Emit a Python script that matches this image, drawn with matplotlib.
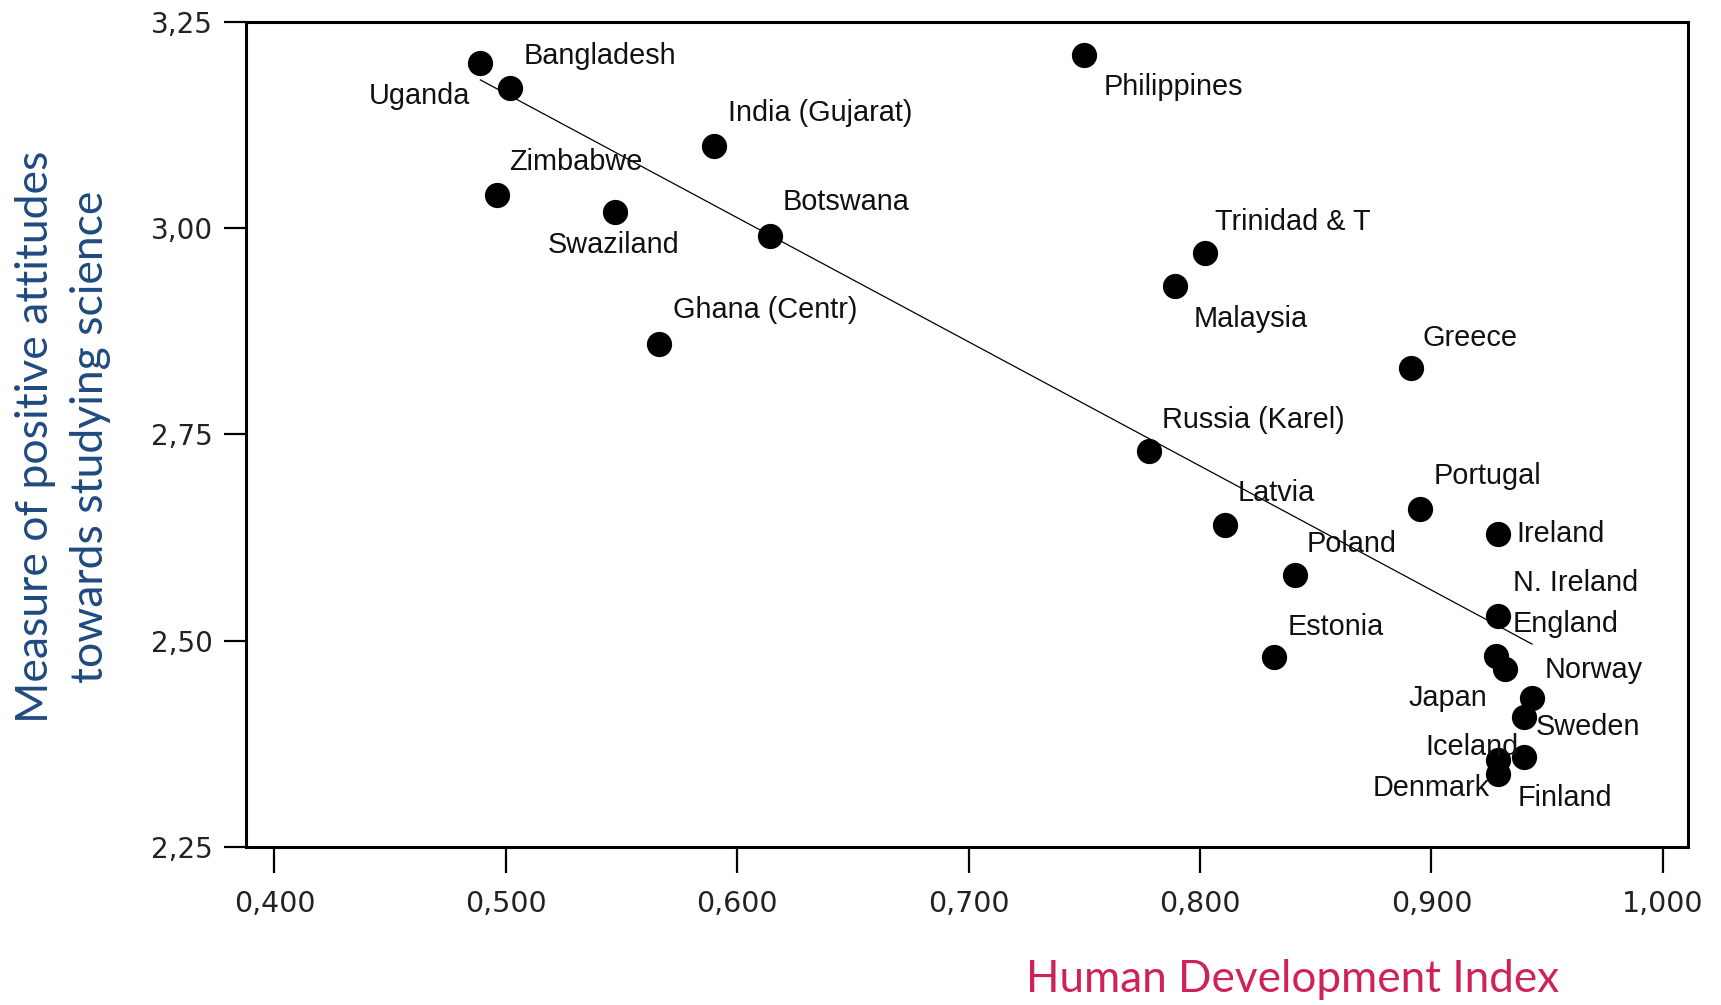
import matplotlib
matplotlib.use("Agg")
import matplotlib.pyplot as plt
import numpy as np

# ---- data ----
countries = ["Uganda", "Bangladesh", "Zimbabwe", "Swaziland", "India (Gujarat)",
             "Botswana", "Ghana (Centr)", "Philippines", "Trinidad & T", "Malaysia",
             "Greece", "Russia (Karel)", "Latvia", "Poland", "Estonia", "Portugal",
             "Ireland", "England", "N. Ireland", "Norway", "Japan", "Sweden",
             "Iceland", "Denmark", "Finland"]
hdi = [0.489, 0.502, 0.496, 0.547, 0.590,
       0.614, 0.566, 0.750, 0.802, 0.789,
       0.891, 0.778, 0.811, 0.841, 0.832, 0.895,
       0.929, 0.929, 0.928, 0.932, 0.9435, 0.940,
       0.929, 0.929, 0.940]
attitude = [3.20, 3.17, 3.04, 3.02, 3.10,
            2.99, 2.86, 3.21, 2.97, 2.93,
            2.83, 2.73, 2.64, 2.58, 2.48, 2.66,
            2.63, 2.53, 2.481, 2.466, 2.431, 2.408,
            2.356, 2.339, 2.359]
xticks = [0.4, 0.5, 0.6, 0.7, 0.8, 0.9, 1.0]
yticks = [2.25, 2.50, 2.75, 3.00, 3.25]

# ---- label placement (style): offset in display px of the reference, alignment ----
S = 1.0976
label_pos = {
    "Uganda": (-9, -30, "right"), "Bangladesh": (12, 29, "left"),
    "Zimbabwe": (11, 30, "left"), "Swaziland": (-61, -30, "left"),
    "India (Gujarat)": (13, 30, "left"), "Botswana": (12, 31, "left"),
    "Ghana (Centr)": (13, 31, "left"), "Philippines": (18, -29, "left"),
    "Trinidad & T": (9, 28, "left"), "Malaysia": (17, -30, "left"),
    "Greece": (11, 28, "left"), "Russia (Karel)": (12, 28, "left"),
    "Latvia": (11, 29, "left"), "Poland": (11, 28, "left"),
    "Estonia": (12, 28, "left"), "Portugal": (13, 30, "left"),
    "Ireland": (16, 0, "left"), "England": (13, -7, "left"),
    "N. Ireland": (15, 67, "left"), "Norway": (36, -1, "left"),
    "Japan": (-41, 0, "right"), "Sweden": (11, -9, "left"),
    "Iceland": (-67, 11, "left"), "Denmark": (-8, -13, "right"),
    "Finland": (-6, -37, "left"),
}

W, H = 1721, 1005
fig = plt.figure(figsize=(W / 100, H / 100), dpi=100)
ax = fig.add_axes([246 / W, 1 - 847 / H, (1688 - 246) / W, (847 - 22) / H])

x = np.array(hdi)
y = np.array(attitude)
coef = np.polyfit(x, y, 1)
xl = np.array([x.min(), x.max()])
ax.plot(xl, np.polyval(coef, xl), color="black", lw=0.9, zorder=2)
ax.scatter(x, y, s=330, color="black", zorder=3, linewidths=0)

for name, xi, yi in zip(countries, hdi, attitude):
    dx, dy, ha = label_pos[name]
    ax.annotate(name, (xi, yi), xytext=(dx * S, dy * S), textcoords="offset pixels",
                ha=ha, va="center", fontsize=20.8, family="Liberation Sans",
                color="#111111", zorder=4)

ax.set_xlim(0.3877, 1.0109)
ax.set_ylim(2.25, 3.25)
ax.set_xticks(xticks)
ax.set_xticklabels([f"{v:.3f}".replace(".", ",") for v in xticks])
ax.set_yticks(yticks)
ax.set_yticklabels([f"{v:.2f}".replace(".", ",") for v in yticks])
for sp in ax.spines.values():
    sp.set_linewidth(2.2)
ax.tick_params(axis="x", length=19, width=1.6, pad=12, labelsize=20.5,
               labelcolor="#222222")
ax.tick_params(axis="y", length=16, width=1.6, pad=8, labelsize=20,
               labelcolor="#222222")
for lab in ax.get_xticklabels() + ax.get_yticklabels():
    lab.set_family("DejaVu Sans")

fig.text(63 / W, 1 - 437 / H, "Measure of positive attitudes\ntowards studying science",
         rotation=90, ha="center", va="center", multialignment="center",
         fontsize=32, family="Lato", color="#1F4A80", linespacing=1.4)
fig.text(1293 / W, 1 - 992 / H, "Human Development Index", ha="center",
         va="baseline", fontsize=31.7, family="Lato", color="#CF2357")

fig.savefig("out.png", dpi=100)
